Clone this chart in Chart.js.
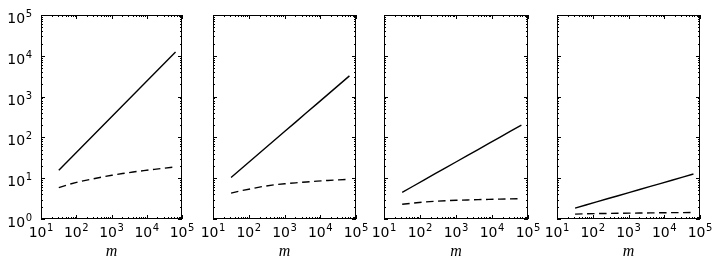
<!DOCTYPE html>
<html>
<head>
<meta charset="utf-8">
<script src="https://cdn.jsdelivr.net/npm/chart.js@4/dist/chart.umd.min.js"></script>
<style>
  html, body { margin: 0; padding: 0; background: #fff; }
  body { width: 722px; height: 269px; position: relative; overflow: hidden; }
  .panel { position: absolute; top: 0; }
</style>
</head>
<body>
<script>
// ---- data ----
const mValues = [32, 64, 128, 256, 512, 1024, 2048, 4096, 8192, 16384, 32768, 65536];

const solid1  = [15.7, 28.8, 52.8, 96.9, 178, 326, 597, 1096, 2010, 3690, 6760, 12400];
const dashed1 = [5.9, 7.1, 8.3, 9.4, 10.6, 11.8, 13.0, 14.2, 15.3, 16.5, 17.7, 18.9];

const solid2  = [10.4, 17.5, 29.5, 49.7, 83.7, 141, 237, 400, 673, 1134, 1910, 3216];
const dashed2 = [4.3, 5.0, 5.6, 6.3, 6.9, 7.3, 7.7, 8.1, 8.5, 8.8, 9.1, 9.4];

const solid3  = [4.5, 6.35, 8.97, 12.7, 17.9, 25.3, 35.7, 50.4, 71.1, 100, 142, 200];
const dashed3 = [2.3, 2.45, 2.6, 2.72, 2.8, 2.87, 2.93, 2.98, 3.03, 3.07, 3.11, 3.15];

const solid4  = [1.85, 2.2, 2.62, 3.13, 3.72, 4.43, 5.28, 6.29, 7.49, 8.92, 10.6, 12.7];
const dashed4 = [1.32, 1.34, 1.355, 1.37, 1.38, 1.39, 1.40, 1.41, 1.42, 1.43, 1.435, 1.44];

const xTickValues = [10, 100, 1000, 10000, 100000];
const yTickValues = [1, 10, 100, 1000, 10000, 100000];
const xAxisLabel = 'm';

// ---- layout ----
const panels = [
  { left: 41,  right: 182, solid: solid1, dashed: dashed1, showY: true },
  { left: 213, right: 356, solid: solid2, dashed: dashed2, showY: false },
  { left: 384, right: 528, solid: solid3, dashed: dashed3, showY: false },
  { left: 557, right: 700, solid: solid4, dashed: dashed4, showY: false },
];
const PLOT_TOP = 15, PLOT_BOTTOM = 219, H = 269;

function drawPow(ctx, v, x, y, align) {
  const e = String(Math.round(Math.log10(v)));
  ctx.font = '14px "DejaVu Sans"';
  const wb = ctx.measureText('10').width;
  ctx.font = '10px "DejaVu Sans"';
  const we = ctx.measureText(e).width;
  const total = wb + we + 0.5;
  const x0 = align === 'right' ? x - total : x - total / 2;
  ctx.textBaseline = 'alphabetic';
  ctx.textAlign = 'left';
  ctx.font = '14px "DejaVu Sans"';
  ctx.fillText('10', x0, y);
  ctx.font = '10px "DejaVu Sans"';
  ctx.fillText(e, x0 + wb + 0.5, y - 6);
}

const frameTicks = {
  id: 'frameTicks',
  afterDraw(chart) {
    const { ctx, chartArea: a } = chart;
    const xs = chart.scales.x, ys = chart.scales.y;
    ctx.save();
    ctx.strokeStyle = '#000';
    ctx.fillStyle = '#000';
    ctx.lineWidth = 1;
    ctx.beginPath();
    for (let d = 1; d <= 5; d++) {
      for (let k = 1; k <= 9; k++) {
        const v = k * Math.pow(10, d);
        if (v > 1e5) break;
        const px = Math.round(xs.getPixelForValue(v)) + 0.5;
        const len = k === 1 ? 4 : 2;
        ctx.moveTo(px, a.bottom); ctx.lineTo(px, a.bottom - len);
        ctx.moveTo(px, a.top); ctx.lineTo(px, a.top + len);
      }
    }
    for (let d = 0; d <= 5; d++) {
      for (let k = 1; k <= 9; k++) {
        const v = k * Math.pow(10, d);
        if (v > 1e5) break;
        const py = Math.round(ys.getPixelForValue(v)) + 0.5;
        const len = k === 1 ? 4 : 2;
        ctx.moveTo(a.left, py); ctx.lineTo(a.left + len, py);
        ctx.moveTo(a.right, py); ctx.lineTo(a.right - len, py);
      }
    }
    ctx.stroke();
    ctx.strokeRect(a.left + 0.5, a.top + 0.5, a.right - a.left - 1, a.bottom - a.top - 1);
    // tick labels
    xTickValues.forEach(v => drawPow(ctx, v, xs.getPixelForValue(v), a.bottom + 18, 'center'));
    if (chart.options.plugins.frameTicks && chart.options.plugins.frameTicks.showY) {
      yTickValues.forEach(v => drawPow(ctx, v, a.left - 9, ys.getPixelForValue(v) + 8, 'right'));
    }
    // axis title
    ctx.font = 'italic 16px "Liberation Serif"';
    ctx.textAlign = 'center';
    ctx.textBaseline = 'alphabetic';
    ctx.fillText(xAxisLabel, (a.left + a.right) / 2, 256);
    ctx.restore();
  }
};

panels.forEach((p) => {
  const leftPad = p.showY ? p.left : 22;
  const rightPad = 22;
  const plotW = p.right - p.left;
  const cw = leftPad + plotW + rightPad;
  const div = document.createElement('div');
  div.className = 'panel';
  div.style.left = (p.left - leftPad) + 'px';
  div.style.width = cw + 'px';
  div.style.height = H + 'px';
  const cv = document.createElement('canvas');
  cv.width = cw; cv.height = H;
  cv.style.width = cw + 'px'; cv.style.height = H + 'px';
  div.appendChild(cv);
  document.body.appendChild(div);

  new Chart(cv, {
    type: 'line',
    data: {
      datasets: [
        { data: mValues.map((m, j) => ({ x: m, y: p.solid[j] })),
          borderColor: '#000', borderWidth: 1.4, pointRadius: 0, tension: 0, fill: false },
        { data: mValues.map((m, j) => ({ x: m, y: p.dashed[j] })),
          borderColor: '#000', borderWidth: 1.4, borderDash: [7.5, 4.5], pointRadius: 0, tension: 0, fill: false },
      ]
    },
    options: {
      responsive: false,
      animation: false,
      devicePixelRatio: 1,
      layout: { padding: { left: leftPad, right: rightPad, top: PLOT_TOP, bottom: H - PLOT_BOTTOM } },
      plugins: { legend: { display: false }, tooltip: { enabled: false }, frameTicks: { showY: p.showY } },
      scales: {
        x: {
          type: 'logarithmic', position: 'bottom', min: 10, max: 100000,
          display: false,
          afterBuildTicks: s => { s.ticks = xTickValues.map(v => ({ value: v })); }
        },
        y: {
          type: 'logarithmic', position: 'left', min: 1, max: 100000,
          display: false,
          afterBuildTicks: s => { s.ticks = yTickValues.map(v => ({ value: v })); }
        }
      }
    },
    plugins: [frameTicks]
  });
});
</script>
</body>
</html>
